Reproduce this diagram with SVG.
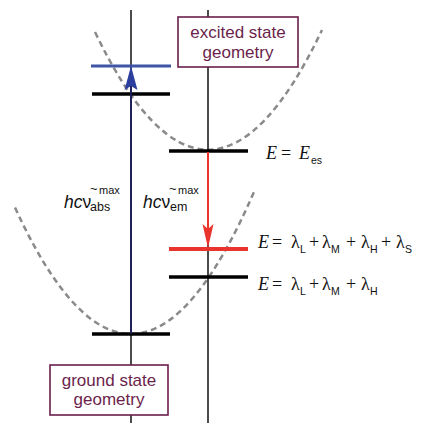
<svg xmlns="http://www.w3.org/2000/svg" width="435" height="423" viewBox="0 0 435 423">
<style>
.axis{stroke:#111;stroke-width:1.5;fill:none}
.lvl{stroke:#000;stroke-width:3.5;fill:none}
.pes{stroke:#8a8a8a;stroke-width:2.5;stroke-dasharray:6 4;fill:none}
.box{fill:#fff;stroke:#6b1f4c;stroke-width:1.6}
.btxt{font-family:"Liberation Sans",Arial,sans-serif;font-size:17px;fill:#6b1f4c;text-anchor:middle}
.eq{font-family:"Liberation Serif","Times New Roman",serif;font-size:18px;fill:#111}
.sub{font-family:"Liberation Sans",Arial,sans-serif;font-size:10.5px;fill:#111}
.hc{font-family:"Liberation Sans",Arial,sans-serif;font-size:17.5px;fill:#111}
</style>
<rect width="435" height="423" fill="#fff"/>
<g id="curves">
<path class="pes" d="M95,32 Q208.5,268.4 322,30"/>
<path class="pes" d="M15,207.5 Q135,469.2 255,189.5"/>
</g>
<g id="axes">
<line class="axis" x1="131" y1="10" x2="131" y2="423"/>
<line class="axis" x1="208" y1="10" x2="208" y2="423"/>
</g>
<g id="levels">
<line class="lvl" x1="92" y1="94" x2="170" y2="94"/>
<line class="lvl" x1="92" y1="334" x2="170" y2="334"/>
<line class="lvl" x1="169" y1="151" x2="248" y2="151"/>
<line class="lvl" x1="169" y1="277" x2="248" y2="277"/>
<line x1="91" y1="66" x2="171" y2="66" stroke="#3f55a8" stroke-width="3"/>
<line x1="169" y1="249" x2="248" y2="249" stroke="#e8342c" stroke-width="4"/>
</g>
<g id="connectors">
<line x1="131" y1="334" x2="131" y2="84" stroke="#1c1c5c" stroke-width="1.8"/>
<path d="M131,66 L137.5,90 L131,86 L124.5,90 Z" fill="#2d3f9e"/>
<line x1="208" y1="152" x2="208" y2="232" stroke="#e8342c" stroke-width="2"/>
<path d="M208,248 L213.5,224 L208,229 L202.5,224 Z" fill="#e8342c"/>
</g>
<g id="excited-box">
<rect class="box" x="178" y="17" width="120" height="50"/>
<text class="btxt" x="238" y="38">excited state</text>
<text class="btxt" x="238" y="58">geometry</text>
</g>
<g id="ground-box">
<rect class="box" x="50" y="365" width="118" height="50"/>
<text class="btxt" x="109" y="386">ground state</text>
<text class="btxt" x="109" y="405">geometry</text>
</g>
<g id="labels">
<text class="hc" x="64" y="208"><tspan font-style="italic">hc</tspan>ν<tspan x="90" dy="3" font-size="12.5">abs</tspan><tspan x="90" dy="-18" font-size="13">~</tspan><tspan x="99" dy="1" font-size="11">max</tspan></text>
<text class="hc" x="143" y="208"><tspan font-style="italic">hc</tspan>ν<tspan x="170" dy="3" font-size="12.5">em</tspan><tspan x="169" dy="-18" font-size="13">~</tspan><tspan x="178" dy="1" font-size="11">max</tspan></text>
<text class="eq" y="159"><tspan x="266" font-style="italic">E</tspan><tspan x="281">=</tspan><tspan x="299" font-style="italic">E</tspan><tspan x="311" dy="5" font-family="Liberation Sans, Arial, sans-serif" font-size="10.5">es</tspan></text>
<text class="eq" y="248"><tspan x="258" font-style="italic">E</tspan><tspan x="272">=</tspan><tspan x="291">λ</tspan><tspan x="309">+</tspan><tspan x="322">λ</tspan><tspan x="346">+</tspan><tspan x="361">λ</tspan><tspan x="381">+</tspan><tspan x="396">λ</tspan></text>
<text class="sub" y="253"><tspan x="300">L</tspan><tspan x="331">M</tspan><tspan x="370">H</tspan><tspan x="405">S</tspan></text>
<text class="eq" y="290"><tspan x="258" font-style="italic">E</tspan><tspan x="272">=</tspan><tspan x="291">λ</tspan><tspan x="309">+</tspan><tspan x="322">λ</tspan><tspan x="346">+</tspan><tspan x="361">λ</tspan></text>
<text class="sub" y="295"><tspan x="300">L</tspan><tspan x="331">M</tspan><tspan x="370">H</tspan></text>
</g>
</svg>
